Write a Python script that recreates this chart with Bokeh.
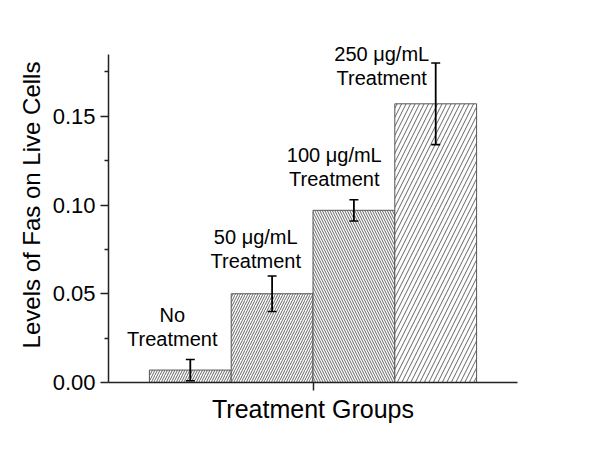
from bokeh.plotting import figure
from bokeh.models import ColumnDataSource, Range1d, FixedTicker, Whisker, TeeHead
from bokeh.core.properties import value
from bokeh.embed import file_html
from bokeh.resources import INLINE

# data
groups = ["No Treatment", "50 \u03bcg/mL Treatment", "100 \u03bcg/mL Treatment", "250 \u03bcg/mL Treatment"]
positions = [1, 2, 3, 4]
levels = [0.007, 0.050, 0.097, 0.157]
errors = [0.006, 0.010, 0.006, 0.023]
label_line1 = ["No", "50 \u03bcg/mL", "100 \u03bcg/mL", "250 \u03bcg/mL"]
label_line2 = ["Treatment", "Treatment", "Treatment", "Treatment"]
# annotation anchors (data coordinates)
label_x = [0.78, 1.80, 2.76, 3.34]
label_y = [0.0245, 0.0685, 0.1145, 0.1715]
hatches = ["/", "/", "\\", "/"]
hatch_scales = [5, 5, 5, 9]

FONT = "Liberation Sans"

p = figure(width=592, height=451, output_backend="svg", toolbar_location=None,
           x_range=Range1d(0, 5), y_range=Range1d(0, 0.2),
           min_border_left=108, min_border_right=75, min_border_top=27, min_border_bottom=69)
p.outline_line_color = None
p.grid.grid_line_color = None
p.background_fill_color = "white"

src = ColumnDataSource(dict(
    x=positions, top=levels,
    upper=[v + e for v, e in zip(levels, errors)],
    lower=[v - e for v, e in zip(levels, errors)],
    hatch=hatches, hscale=hatch_scales,
))

p.vbar(x="x", top="top", width=1.0, bottom=0, source=src,
       fill_color="white", line_color="#555555", line_width=1,
       hatch_pattern="hatch", hatch_scale="hscale", hatch_color="#666666",
       hatch_weight=1)

w = Whisker(base="x", upper="upper", lower="lower", source=src, level="overlay",
            line_color="black", line_width=1.8,
            upper_head=TeeHead(size=9, line_color="black", line_width=1.6),
            lower_head=TeeHead(size=9, line_color="black", line_width=1.6))
p.add_layout(w)

lab = ColumnDataSource(dict(x=label_x, y=label_y, l1=label_line1, l2=label_line2))
p.text(x="x", y="y", text="l2", source=lab, text_align="center",
       text_baseline="alphabetic", text_font=value(FONT), text_font_size="20px",
       text_color="black")
p.text(x="x", y="y", text="l1", source=lab, text_align="center", y_offset=-24,
       text_baseline="alphabetic", text_font=value(FONT), text_font_size="20px",
       text_color="black")

# axes
for ax in (p.xaxis[0], p.yaxis[0]):
    ax.axis_line_width = 1.5
    ax.axis_line_color = "#222222"
    ax.major_tick_line_color = "#222222"
    ax.major_tick_line_width = 1.5
    ax.minor_tick_line_color = "#222222"
    ax.minor_tick_line_width = 1.5
    ax.major_tick_in = 0
    ax.minor_tick_in = 0
    ax.axis_label_text_font = FONT
    ax.axis_label_text_font_style = "normal"
    ax.axis_label_text_color = "black"
    ax.major_label_text_font = FONT
    ax.major_label_text_color = "black"

p.yaxis.bounds = (0, 0.185)
p.yaxis.ticker = FixedTicker(ticks=[0.0, 0.05, 0.10, 0.15],
                             minor_ticks=[0.025, 0.075, 0.125, 0.175])
p.yaxis.major_tick_out = 8
p.yaxis.minor_tick_out = 4
p.yaxis.major_label_text_font_size = "22px"
p.yaxis.major_label_standoff = 5
p.yaxis.major_label_overrides = {0.0: "0.00", 0.05: "0.05", 0.1: "0.10", 0.15: "0.15"}
p.yaxis.axis_label = "Levels of Fas on Live Cells"
p.yaxis.axis_label_text_font_size = "24px"
p.yaxis.axis_label_standoff = 5

p.xaxis.ticker = FixedTicker(ticks=[2.5], minor_ticks=[])
p.xaxis.major_tick_out = 8
p.xaxis.minor_tick_out = 0
p.xaxis.major_label_overrides = {2.5: ""}
p.xaxis.major_label_standoff = 0
p.xaxis.axis_label = "Treatment Groups"
p.xaxis.axis_label_text_font_size = "25px"
p.xaxis.axis_label_standoff = 4

open("out.html", "w").write(file_html(p, INLINE))
